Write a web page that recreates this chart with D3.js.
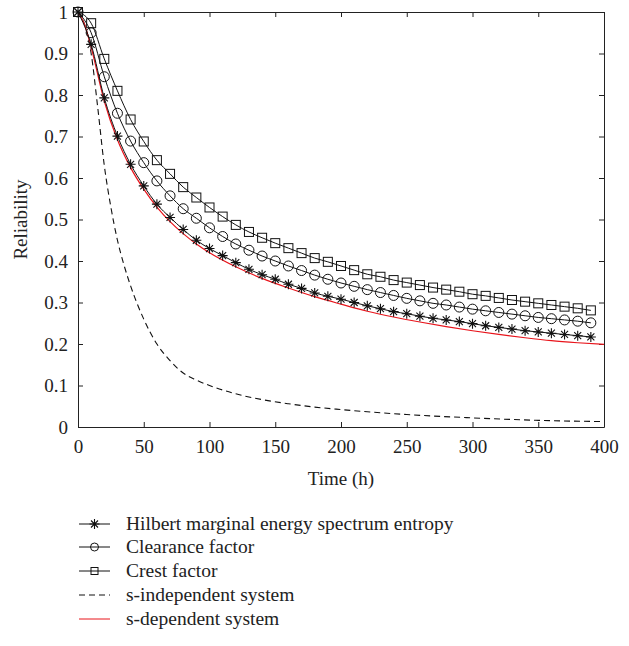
<!DOCTYPE html>
<html>
<head>
<meta charset="utf-8">
<title>Reliability</title>
<script src="https://d3js.org/d3.v7.min.js"></script>
<style>
  body { margin: 0; background: #fff; }
  svg { display: block; }
  text { font-family: "Liberation Serif", "Times New Roman", serif; fill: #222; }
</style>
</head>
<body>
<div id="chart"></div>
<script>
const width = 629, height = 646;
const margin = {top: 12, right: 25, bottom: 219, left: 78};

// marker series, sampled every 10 h
const markerTimes = d3.range(0, 400, 10);
const hilbert = [1, 0.922, 0.793, 0.701, 0.633, 0.581, 0.537, 0.505, 0.476, 0.450,
  0.430, 0.413, 0.396, 0.380, 0.367, 0.356, 0.344, 0.334, 0.323, 0.315,
  0.308, 0.300, 0.292, 0.285, 0.278, 0.273, 0.267, 0.262, 0.258, 0.254,
  0.249, 0.244, 0.240, 0.236, 0.232, 0.229, 0.226, 0.223, 0.220, 0.217];
const clearance = [1, 0.950, 0.844, 0.756, 0.689, 0.637, 0.593, 0.557, 0.526, 0.503,
  0.480, 0.459, 0.441, 0.426, 0.412, 0.400, 0.388, 0.377, 0.366, 0.356,
  0.347, 0.339, 0.331, 0.324, 0.317, 0.310, 0.304, 0.298, 0.294, 0.289,
  0.284, 0.280, 0.276, 0.272, 0.268, 0.264, 0.261, 0.258, 0.255, 0.251];
const crest = [1, 0.973, 0.887, 0.810, 0.741, 0.688, 0.643, 0.610, 0.578, 0.553,
  0.529, 0.507, 0.487, 0.470, 0.456, 0.443, 0.431, 0.419, 0.407, 0.398,
  0.388, 0.378, 0.368, 0.362, 0.354, 0.348, 0.342, 0.336, 0.331, 0.326,
  0.320, 0.316, 0.311, 0.306, 0.302, 0.298, 0.294, 0.290, 0.286, 0.281];

// system curves
const depTimes = [0, 5, 10, 20, 30, 40, 50, 60, 70, 80, 90, 100, 120, 140, 160, 180, 200,
  220, 240, 260, 280, 300, 320, 340, 360, 380, 400];
const sDependent = [1, 0.97, 0.915, 0.785, 0.692, 0.625, 0.573, 0.530, 0.495, 0.466, 0.441,
  0.420, 0.386, 0.358, 0.335, 0.314, 0.296, 0.279, 0.265, 0.253, 0.242, 0.232,
  0.223, 0.215, 0.208, 0.203, 0.199];
const indTimes = [0, 5, 10, 15, 20, 25, 30, 35, 40, 50, 60, 70, 80, 90, 100, 120, 140,
  160, 180, 200, 250, 300, 350, 400];
const sIndependent = [1, 0.97, 0.90, 0.77, 0.63, 0.53, 0.45, 0.39, 0.34, 0.26, 0.20, 0.16,
  0.13, 0.113, 0.10, 0.08, 0.066, 0.056, 0.048, 0.042, 0.030, 0.022, 0.016, 0.013];

const xTicks = [0, 50, 100, 150, 200, 250, 300, 350, 400];
const yTicks = [0, 0.1, 0.2, 0.3, 0.4, 0.5, 0.6, 0.7, 0.8, 0.9, 1];
const legendLabels = ["Hilbert marginal energy spectrum entropy", "Clearance factor",
  "Crest factor", "s-independent system", "s-dependent system"];

const svg = d3.select("#chart").append("svg")
  .attr("width", width).attr("height", height);

const x = d3.scaleLinear().domain([0, 400]).range([margin.left, width - margin.right]);
const y = d3.scaleLinear().domain([0, 1]).range([height - margin.bottom, margin.top]);

// axes, ticks pointing inward on all sides
const fmt = d => d === 0 ? "0" : d === 1 ? "1" : d3.format(".1f")(d);
svg.append("g").attr("transform", `translate(0,${y(0)})`)
  .call(d3.axisBottom(x).tickValues(xTicks).tickSizeInner(-5).tickSizeOuter(0).tickPadding(13))
  .call(g => g.selectAll("text").attr("font-size", 19));
svg.append("g").attr("transform", `translate(0,${y(1)})`)
  .call(d3.axisTop(x).tickValues(xTicks).tickSizeInner(-5).tickSizeOuter(0).tickFormat(""));
svg.append("g").attr("transform", `translate(${x(0)},0)`)
  .call(d3.axisLeft(y).tickValues(yTicks).tickFormat(fmt).tickSizeInner(-5).tickSizeOuter(0).tickPadding(10))
  .call(g => g.selectAll("text").attr("font-size", 19));
svg.append("g").attr("transform", `translate(${x(400)},0)`)
  .call(d3.axisRight(y).tickValues(yTicks).tickSizeInner(-5).tickSizeOuter(0).tickFormat(""));
svg.selectAll(".domain, .tick line").attr("stroke", "#222");
svg.selectAll(".tick text").attr("fill", "#222").attr("font-family", "Liberation Serif, serif");

svg.append("text").attr("x", x(200)).attr("y", 485).attr("text-anchor", "middle")
  .attr("font-size", 19).text("Time (h)");
svg.append("text").attr("transform", `translate(27,${y(0.5)}) rotate(-90)`)
  .attr("text-anchor", "middle").attr("font-size", 19).text("Reliability");

const line = d3.line().x(d => x(d[0])).y(d => y(d[1])).curve(d3.curveMonotoneX);

const plot = svg.append("g");
plot.append("path").datum(indTimes.map((t, i) => [t, sIndependent[i]]))
  .attr("d", line).attr("fill", "none").attr("stroke", "#111").attr("stroke-width", 1.1)
  .attr("stroke-dasharray", "6,4");
plot.append("path").datum(depTimes.map((t, i) => [t, sDependent[i]]))
  .attr("d", line).attr("fill", "none").attr("stroke", "#e8141b").attr("stroke-width", 1.2);

const markerSeries = [
  {values: hilbert, shape: "star"},
  {values: clearance, shape: "circle"},
  {values: crest, shape: "square"}
];

function drawMarker(g, shape, cx, cy) {
  if (shape === "circle") {
    g.append("circle").attr("cx", cx).attr("cy", cy).attr("r", 5)
      .attr("fill", "none").attr("stroke", "#111").attr("stroke-width", 1);
  } else if (shape === "square") {
    g.append("rect").attr("x", cx - 4.5).attr("y", cy - 4.5).attr("width", 9).attr("height", 9)
      .attr("fill", "none").attr("stroke", "#111").attr("stroke-width", 1);
  } else {
    const r = 5;
    const p = `M${cx - r},${cy}H${cx + r}M${cx},${cy - r}V${cy + r}` +
      `M${cx - r * 0.7},${cy - r * 0.7}L${cx + r * 0.7},${cy + r * 0.7}` +
      `M${cx - r * 0.7},${cy + r * 0.7}L${cx + r * 0.7},${cy - r * 0.7}`;
    g.append("path").attr("d", p).attr("stroke", "#111").attr("stroke-width", 1.1).attr("fill", "none");
  }
}

markerSeries.forEach(s => {
  const pts = markerTimes.map((t, i) => [t, s.values[i]]);
  plot.append("path").datum(pts).attr("d", line)
    .attr("fill", "none").attr("stroke", "#111").attr("stroke-width", 1);
  const mg = plot.append("g");
  pts.forEach(p => drawMarker(mg, s.shape, x(p[0]), y(p[1])));
});

// legend
const legend = svg.append("g");
const legY = [524, 547, 571, 595, 619];
legendLabels.forEach((lab, i) => {
  const ly = legY[i];
  const ln = legend.append("line").attr("x1", 79).attr("x2", 110).attr("y1", ly).attr("y2", ly)
    .attr("stroke", i === 4 ? "#e8141b" : "#111").attr("stroke-width", 1);
  if (i === 3) ln.attr("stroke-dasharray", "6,4");
  if (i < 3) {
    const shape = markerSeries[i].shape;
    if (shape === "circle") {
      legend.append("circle").attr("cx", 94.5).attr("cy", ly).attr("r", 4)
        .attr("fill", "none").attr("stroke", "#111");
    } else if (shape === "square") {
      legend.append("rect").attr("x", 91).attr("y", ly - 3.5).attr("width", 7).attr("height", 7)
        .attr("fill", "none").attr("stroke", "#111");
    } else {
      drawMarker(legend, "star", 94.5, ly);
    }
  }
  legend.append("text").attr("x", 126).attr("y", ly + 6).attr("font-size", 19.5).text(lab);
});
</script>
</body>
</html>
